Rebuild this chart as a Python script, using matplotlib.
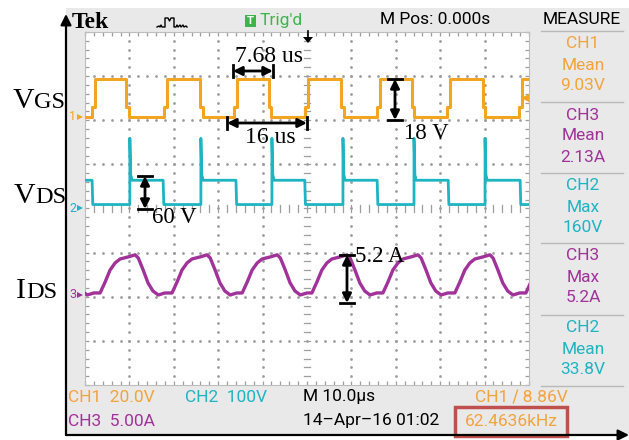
import numpy as np
import matplotlib.pyplot as plt
from matplotlib import font_manager
from matplotlib.patches import Rectangle, Polygon

W, H = 629, 440

# channel setup: units per division and ground level (divisions from bottom)
ch1_scale, ch1_ground = 20.0, 6.07
ch2_scale, ch2_ground = 100.0, 4.01
ch3_scale, ch3_ground = 5.0, 2.04

# VGS (CH1) switching edges, us
vgs_rise = [2.25, 18.5, 34.2, 50.2, 66.4, 82.2, 98.4]
vgs_fall = [9.2, 25.9, 41.4, 57.7, 73.6, 89.6]
vgs_low, vgs_high, vgs_plateau = 0.0, 17.5, 4.5

# VDS (CH2) switching edges, us
vds_rise = [10.1, 26.1, 42.1, 58.1, 74.1, 90.1]
vds_fall = [1.6, 17.6, 34.0, 49.5, 65.8, 81.8, 98.0]
vds_low, vds_high, vds_spike = 8.0, 63.0, 158.0

# IDS (CH3): one cycle, placed at each cycle start
ids_start = [-12.6, 3.4, 19.6, 35.4, 51.1, 67.1, 83.3, 99.3]
ids_cycle_t = [0, 1.13, 2.25, 3.38, 4.5, 6.3, 7.9, 8.6, 9.7, 10.8, 11.9, 13.1, 14.6]
ids_cycle_a = [0.23, 1.47, 2.83, 3.63, 4.08, 4.31, 4.55, 4.19, 2.83, 1.36, 0.45, 0.0, 0.23]

measure_titles = ["CH1", "CH3", "CH2", "CH3", "CH2"]
measure_kinds = ["Mean", "Mean", "Max", "Max", "Mean"]
measure_values = ["9.03V", "2.13A", "160V", "5.2A", "33.8V"]

orange = "#f4a51f"
orange_txt = "#f2a43c"
cyan = "#1db5c2"
purple = "#a1329a"
green = "#3db54a"
grid_c = "#9e9e9e"
bg = "#e9e9ea"

names = {f.name for f in font_manager.fontManager.ttflist}
scope_font = "Liberation Sans Narrow" if "Liberation Sans Narrow" in names else "Roboto"
serif = "Liberation Serif"


def px(x0, y0, w, h):
    return [x0 / W, 1 - (y0 + h) / H, w / W, h / H]


def vgs_wave():
    ev = sorted([(t, 1) for t in vgs_rise] + [(t, 0) for t in vgs_fall])
    level = vgs_high if ev[0][1] == 0 else vgs_low
    t, v = [0.0], [level]
    for te, kind in ev:
        if kind == 1:
            t += [te - 0.6, te - 0.6, te, te]
            v += [vgs_low, vgs_plateau, vgs_plateau, vgs_high]
        else:
            t += [te, te, te + 0.6, te + 0.6]
            v += [vgs_high, vgs_plateau, vgs_plateau, vgs_low]
    t.append(100.0)
    v.append(vgs_high if ev[-1][1] == 1 else vgs_low)
    return np.array(t), np.array(v)


def vds_wave():
    ev = sorted([(t, 1) for t in vds_rise] + [(t, 0) for t in vds_fall])
    level = vds_high if ev[0][1] == 0 else vds_low
    t, v = [0.0], [level]
    for te, kind in ev:
        if kind == 1:
            t += [te, te, te + 0.2, te + 0.5]
            v += [vds_low, vds_spike, vds_high + 12, vds_high]
        else:
            t += [te, te + 0.15]
            v += [vds_high, vds_low]
    t.append(100.0)
    v.append(vds_high if ev[-1][1] == 1 else vds_low)
    return np.array(t), np.array(v)


def ids_wave():
    t, v = [], []
    for s in ids_start:
        t += [s + c for c in ids_cycle_t]
        v += ids_cycle_a
    return np.array(t), np.array(v)


fig = plt.figure(figsize=(W / 100, H / 100), dpi=100)

# background layer
under = fig.add_axes([0, 0, 1, 1], zorder=0)
under.set_xlim(0, W)
under.set_ylim(H, 0)
under.axis("off")
under.add_patch(Rectangle((66, 8), W - 66, 427, color=bg, lw=0))

# screen graticule
ax = fig.add_axes(px(85, 32, 444, 353), zorder=1)
ax.set_facecolor("white")
ax.set_xlim(0, 100)
ax.set_ylim(0, 8)
for s in ax.spines.values():
    s.set_color("#bdbdbd")
    s.set_linewidth(0.8)
ax.set_xticks(np.arange(0, 101, 10))
ax.set_xticks(np.arange(0, 101, 2), minor=True)
ax.set_yticks(np.arange(0, 9, 1))
ax.set_yticks(np.arange(0, 8.01, 0.2), minor=True)
ax.tick_params(which="both", direction="in", top=True, right=True, length=3,
               width=0.9, color=grid_c, labelbottom=False, labelleft=False)

# dotted division lines
gx, gy = [], []
for xv in range(10, 100, 10):
    if xv != 50:
        col = np.arange(0.2, 8, 0.2)
        gx += [xv] * len(col)
        gy += list(col)
for yv in range(1, 8):
    if yv != 4:
        row = np.arange(2, 100, 2)
        gx += list(row)
        gy += [yv] * len(row)
ax.plot(gx, gy, ls="none", marker="o", ms=2.0, mew=0, color=grid_c, zorder=1)

# centre cross with short tick marks
sx, sy = [], []
for xv in np.arange(2, 100, 2):
    sx += [xv, xv, np.nan]
    sy += [3.93, 4.07, np.nan]
for yv in np.arange(0.2, 8, 0.2):
    sx += [49.3, 50.7, np.nan]
    sy += [yv, yv, np.nan]
ax.plot(sx, sy, color=grid_c, lw=0.9, zorder=1)

t1, v1 = vgs_wave()
t2, v2 = vds_wave()
t3, v3 = ids_wave()
ax.plot(t1, ch1_ground + v1 / ch1_scale, color=orange, lw=2.2, zorder=3)
ax.plot(t2, ch2_ground + v2 / ch2_scale, color=cyan, lw=2.0, zorder=3)
ax.plot(t3, ch3_ground + v3 / ch3_scale, color=purple, lw=2.4, zorder=3)

# overlay layer for text and annotations
top = fig.add_axes([0, 0, 1, 1], zorder=2)
top.set_xlim(0, W)
top.set_ylim(H, 0)
top.axis("off")
top.patch.set_alpha(0)

# axis arrows round the scope picture
top.annotate("", xy=(66, 14), xytext=(66, 435),
             arrowprops=dict(arrowstyle="-|>", color="k", lw=1.6, mutation_scale=16,
                             shrinkA=0, shrinkB=0))
top.annotate("", xy=(629, 435), xytext=(66, 435),
             arrowprops=dict(arrowstyle="-|>", color="k", lw=1.6, mutation_scale=16,
                             shrinkA=0, shrinkB=0))

# header
top.text(72, 28, "Tek", family=serif, weight="bold", fontsize=17, color="k", va="baseline")
icon_x = [157, 159, 160, 161, 162, 164, 165, 165, 168, 169.5, 171, 174, 174, 176, 177,
          178, 180, 181, 183, 184, 186, 187]
icon_y = [27, 26, 27, 25, 27, 27, 27, 18, 18, 21, 18, 18, 27, 27, 25, 27, 25, 27, 25,
          27, 26, 27]
top.plot(icon_x, icon_y, color="k", lw=1.0)
top.add_patch(Rectangle((245, 15), 11, 12, color=green, lw=0))
top.text(250.5, 21.5, "T", family=scope_font, fontsize=8, color="white", weight="bold",
         ha="center", va="center")
top.text(260, 21, "Trig'd", family=scope_font, fontsize=12.5, color=green, va="center")
top.text(435, 19, "M Pos: 0.000s", family=scope_font, fontsize=12.5, color="k",
         ha="center", va="center")
top.text(582, 19, "MEASURE", family=scope_font, fontsize=12.5, color="k",
         ha="center", va="center")

# trigger position / level markers
top.add_patch(Polygon([(303, 37), (313, 37), (308, 43)], color="k", lw=0))
top.plot([308, 308], [31, 38], color="k", lw=1.2)
top.add_patch(Polygon([(521, 98), (529, 94), (529, 102)], color=orange, lw=0))

# channel ground markers
for lbl, yy, c in [("1", 117, orange), ("2", 208, cyan), ("3", 295, purple)]:
    top.text(69, yy, lbl, family=scope_font, fontsize=9, color=c, va="center")
    top.add_patch(Polygon([(77, yy - 3), (77, yy + 3), (83, yy)], color=c, lw=0))

# measurement panel
sep_y = [31, 102, 173, 243, 315, 386]
for yy in sep_y:
    top.plot([541, 623], [yy, yy], color="#b9b9b9", lw=1.0)
colors = {"CH1": orange_txt, "CH2": cyan, "CH3": purple}
for i in range(5):
    y0 = sep_y[i]
    c = colors[measure_titles[i]]
    for k, s in enumerate([measure_titles[i], measure_kinds[i], measure_values[i]]):
        top.text(583, y0 + 13 + 21 * k, s, family=scope_font, fontsize=12.5, color=c,
                 ha="center", va="center")

# bottom status lines
top.text(68, 397, "CH1  20.0V", family=scope_font, fontsize=12.5, color=orange_txt, va="center")
top.text(185, 397, "CH2  100V", family=scope_font, fontsize=12.5, color=cyan, va="center")
top.text(303, 397, "M 10.0\u00b5s", family=scope_font, fontsize=12.5, color="k", va="center")
top.text(475, 397, "CH1 \u2215 8.86V", family=[scope_font, "DejaVu Sans"], fontsize=12.5,
         color=orange_txt, va="center")
top.text(68, 421, "CH3  5.00A", family=scope_font, fontsize=12.5, color=purple, va="center")
top.text(303, 421, "14\u2013Apr\u201316 01:02", family=scope_font, fontsize=12.5, color="k",
         va="center")
top.add_patch(Rectangle((455, 407), 112, 29, fill=False, ec="#c0504d", lw=2.5))
top.text(511, 421, "62.4636kHz", family=scope_font, fontsize=12.5, color=orange_txt,
         ha="center", va="center")

# signal names
for big, small, yb, xs in [("V", "GS", 108, 34), ("V", "DS", 203, 35), ("I", "DS", 298, 26)]:
    top.text(xs, yb, big, family=serif, fontsize=21.5, color="k", ha="right", va="baseline")
    top.text(xs, yb, small, family=serif, fontsize=17.5, color="k", ha="left", va="baseline")


def dim_arrow(p0, p1, horizontal):
    top.annotate("", xy=p1, xytext=p0,
                 arrowprops=dict(arrowstyle="<|-|>", color="k", lw=2.0, mutation_scale=13,
                                 shrinkA=0, shrinkB=0))
    for (x, y) in (p0, p1):
        if horizontal:
            top.plot([x, x], [y - 6, y + 6], color="k", lw=2.0)
        else:
            top.plot([x - 7, x + 7], [y, y], color="k", lw=2.0)


dim_arrow((233, 71), (273, 71), True)
top.text(269, 62, "7.68 us", family=serif, fontsize=17, color="k", ha="center", va="baseline")
dim_arrow((227, 123), (307, 123), True)
top.text(270, 143, "16 us", family=serif, fontsize=17, color="k", ha="center", va="baseline")
dim_arrow((395, 79), (395, 120), False)
top.text(404, 139, "18 V", family=serif, fontsize=16.5, color="k", ha="left", va="baseline")
dim_arrow((145, 176), (145, 209), False)
top.text(152, 223, "60 V", family=serif, fontsize=16.5, color="k", ha="left", va="baseline")
dim_arrow((347, 255), (347, 303), False)
top.text(355, 262, "5.2 A", family=serif, fontsize=16.5, color="k", ha="left", va="baseline")

fig.savefig("out.png", dpi=100)
